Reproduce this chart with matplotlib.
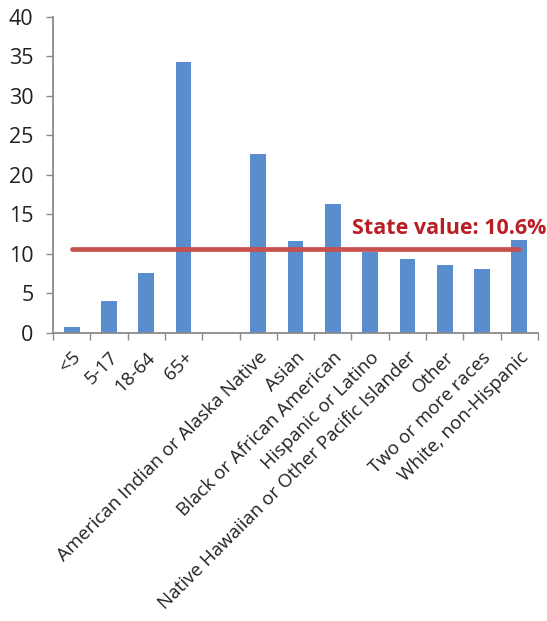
import numpy as np
import matplotlib
matplotlib.use("Agg")
import matplotlib.pyplot as plt
from matplotlib.ticker import FixedLocator

plt.rcParams["font.family"] = ["Open Sans", "DejaVu Sans"]

# ── Data ──────────────────────────────────────────────────────────────────────
age_labels  = ["<5", "5-17", "18-64", "65+"]
age_values  = [0.8, 4.1, 7.6, 34.3]
race_labels = ["American Indian or Alaska Native", "Asian",
               "Black or African American", "Hispanic or Latino",
               "Native Hawaiian or Other Pacific Islander", "Other",
               "Two or more races", "White, non-Hispanic"]
race_values = [22.6, 11.6, 16.3, 10.3, 9.3, 8.6, 8.1, 11.7]
state_value = 10.6

labels = age_labels + [""] + race_labels
values = age_values + [np.nan] + race_values
x = np.arange(len(labels))

BAR   = "#5A8DCD"
LINE  = "#C8504D"
TEXT  = "#B81E24"
AXIS  = "#8A8A8A"

fig = plt.figure(figsize=(5.47, 6.21), dpi=100)
ax = fig.add_axes([0.097, 0.4638, 0.8865, 0.5092])

ax.bar(x, values, width=0.42, color=BAR, zorder=2)
ax.hlines(state_value, x[0], x[-1], color=LINE, lw=3.4, zorder=3,
          capstyle="round")
ax.text(x[-1] + 0.72, state_value + 1.3, f"State value: {state_value}%",
        color=TEXT, fontsize=15.5, fontweight="bold", ha="right", va="bottom")

ax.set_xlim(-0.5, len(labels) - 0.5)
ax.set_ylim(0, 40)
ax.set_yticks(range(0, 41, 5))
ax.tick_params(axis="y", labelsize=15.5, colors=AXIS, labelcolor="#222222",
               length=5, width=1, pad=9)

ax.set_xticks(x)
ax.set_xticklabels(labels, rotation=45, ha="right", rotation_mode="anchor",
                   fontsize=13.5, color="#222222")
ax.tick_params(axis="x", which="major", length=0, pad=11)
ax.xaxis.set_minor_locator(FixedLocator(np.arange(-0.5, len(labels), 1.0)))
ax.tick_params(axis="x", which="minor", length=5, width=1, color=AXIS)

for side in ["top", "right"]:
    ax.spines[side].set_visible(False)
for side in ["left", "bottom"]:
    ax.spines[side].set_color(AXIS)
    ax.spines[side].set_linewidth(1.3)

plt.savefig("out.png", dpi=100)
plt.close()
